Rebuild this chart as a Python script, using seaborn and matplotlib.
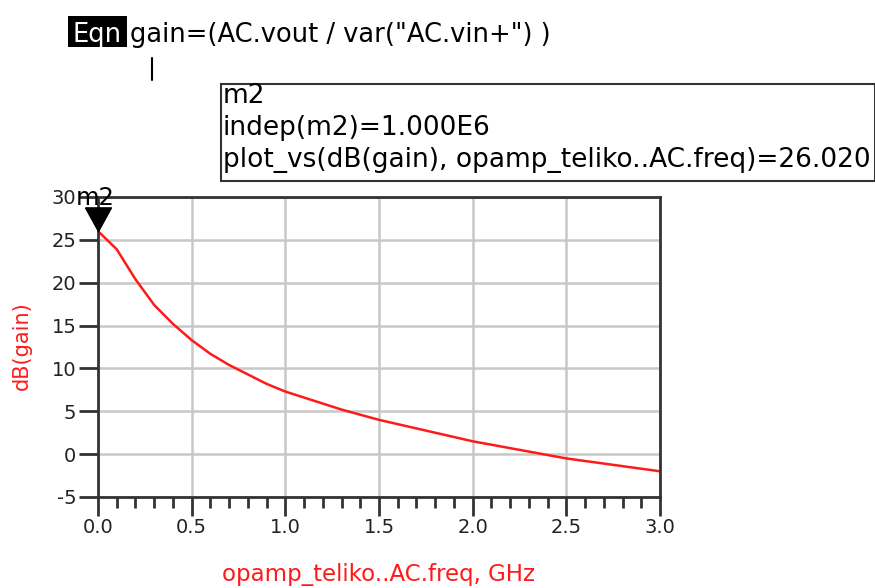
import matplotlib
matplotlib.use("Agg")
import matplotlib.pyplot as plt
import seaborn as sns
import pandas as pd
from matplotlib.path import Path
from matplotlib.ticker import MultipleLocator

# ---- data ----
freq_ghz = [0.0, 0.1, 0.2, 0.3, 0.4, 0.5, 0.6, 0.7, 0.8, 0.9, 1.0,
            1.1, 1.2, 1.3, 1.4, 1.5, 1.6, 1.7, 1.8, 1.9, 2.0,
            2.1, 2.2, 2.3, 2.4, 2.5, 2.6, 2.7, 2.8, 2.9, 3.0]
gain_db = [26.02, 23.9, 20.4, 17.4, 15.2, 13.3, 11.7, 10.4, 9.3, 8.2, 7.3,
           6.6, 5.9, 5.2, 4.6, 4.0, 3.5, 3.0, 2.5, 2.0, 1.5,
           1.1, 0.7, 0.3, -0.1, -0.5, -0.8, -1.1, -1.4, -1.7, -2.0]
x_ticks = [0.0, 0.5, 1.0, 1.5, 2.0, 2.5, 3.0]
y_ticks = [-5, 0, 5, 10, 15, 20, 25, 30]
marker_x = [0.0]
marker_y = [26.02]
marker_name = "m2"
eqn_text = 'gain=(AC.vout / var("AC.vin+") )'
readout_lines = ["m2", "indep(m2)=1.000E6",
                 "plot_vs(dB(gain), opamp_teliko..AC.freq)=26.020"]
x_label = "opamp_teliko..AC.freq, GHz"
y_label = "dB(gain)"

sns.set_theme(style="white")
plt.rcParams["font.family"] = ["DejaVu Sans"]

W, H = 875, 588
fig = plt.figure(figsize=(W / 100, H / 100), dpi=100)
ax = fig.add_axes([98 / W, 1 - 497 / H, (660 - 98) / W, (497 - 197) / H])


def fx(px):
    return px / W


def fy(py):
    return 1 - py / H


df = pd.DataFrame({"freq": freq_ghz, "gain": gain_db})
sns.lineplot(data=df, x="freq", y="gain", ax=ax, color="#ff1a1a", linewidth=1.8)

ax.set_xlim(0, 3.0)
ax.set_ylim(-5, 30)
ax.set_xticks(x_ticks)
ax.set_xticklabels([f"{v:.1f}" for v in x_ticks])
ax.set_yticks(y_ticks)
ax.set_yticklabels([str(v) for v in y_ticks])
ax.xaxis.set_minor_locator(MultipleLocator(0.1))
ax.grid(True, which="major", color="#c8c8c8", linewidth=1.8)
for s in ax.spines.values():
    s.set_color("#333333")
    s.set_linewidth(2)
ax.tick_params(axis="both", which="major", direction="out", length=13.5,
               width=2, color="#333333", labelsize=14, labelcolor="#222222",
               bottom=True, left=True)
ax.tick_params(axis="y", which="major", pad=2)
ax.tick_params(axis="x", which="major", pad=1.5)
ax.tick_params(axis="x", which="minor", direction="out", length=8, width=2,
               color="#333333", bottom=True)
ax.set_xlabel("")
ax.set_ylabel("")

# marker triangle with apex at data point
tri = Path([(-0.55, 1.0), (0.55, 1.0), (0.0, 0.0), (-0.55, 1.0)])
ax.plot(marker_x, marker_y, linestyle="none", marker=tri, markersize=34,
        color="black", clip_on=False, zorder=5)
fig.text(fx(76), fy(205), marker_name, fontsize=17.5, color="black",
         ha="left", va="baseline")

# axis labels
fig.text(fx(22), fy(346), y_label, rotation=90, color="#ff1a1a",
         fontsize=15, ha="center", va="center")
fig.text(fx(378), fy(575), x_label, color="#ff1a1a", fontsize=16.5,
         ha="center", va="center")

# equation block
fig.add_artist(plt.Rectangle((fx(68), fy(47)), 59 / W, 31 / H,
                             transform=fig.transFigure, facecolor="black",
                             edgecolor="none"))
fig.text(fx(97.5), fy(42), "Eqn", fontsize=18.5, color="white",
         ha="center", va="baseline")
fig.text(fx(130), fy(42), eqn_text, fontsize=18.5, color="black",
         ha="left", va="baseline")
fig.add_artist(plt.Line2D([fx(152), fx(152)], [fy(58), fy(80)],
                          color="black", linewidth=1.5))

# readout box
box = plt.Rectangle((fx(221), fy(181)), (875 - 221) / W, (181 - 84) / H,
                    transform=fig.transFigure, facecolor="white",
                    edgecolor="#333333", linewidth=1.5)
fig.add_artist(box)
for i, line in enumerate(readout_lines):
    fig.text(fx(223), fy(103 + 32 * i), line, fontsize=19, color="black",
             ha="left", va="baseline")

fig.savefig("out.png", dpi=100)
